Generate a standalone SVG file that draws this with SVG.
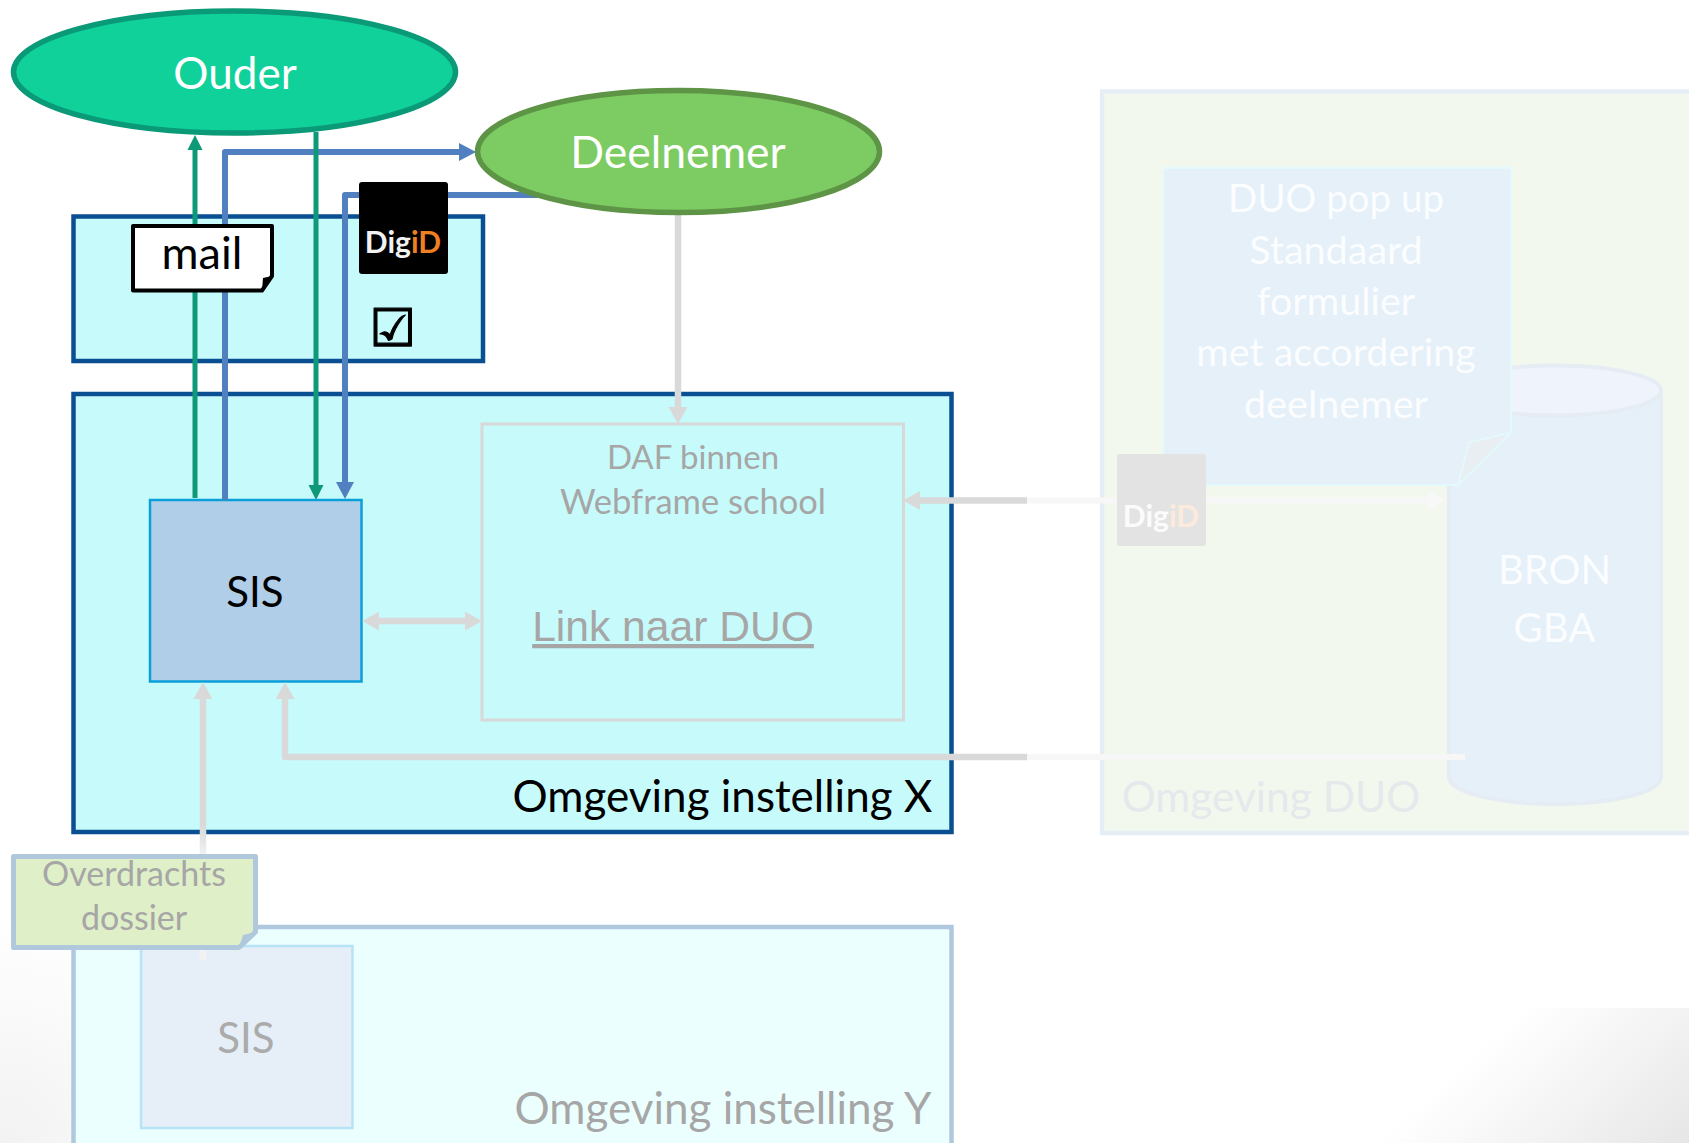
<svg xmlns="http://www.w3.org/2000/svg" width="1689" height="1143" viewBox="0 0 1689 1143">
<style>
text{font-family:Lato,"Open Sans","Liberation Sans",sans-serif;text-anchor:middle}
.gray{fill:#a6a6a6}
.pale{fill:#fbfdff}
.cont{fill:#c7fbfb;stroke:#0a4f91;stroke-width:4.5}
.fl{fill:none;stroke-linejoin:round}
.g{stroke:#0e9a78;stroke-width:5}
.b{stroke:#5180c0;stroke-width:6}
.d{stroke:#d9d9d9;stroke-width:6.5}
.l{stroke:#f7f7f7;stroke-width:6}
</style>
<defs>
<marker id="hg" markerUnits="userSpaceOnUse" markerWidth="16" markerHeight="16" refX="0" refY="8" orient="auto"><path d="M0,0.5L15,8L0,15.5Z" fill="#0e9a78"/></marker>
<marker id="hb" markerUnits="userSpaceOnUse" markerWidth="18" markerHeight="18" refX="0" refY="9" orient="auto"><path d="M0,0L17,9L0,18Z" fill="#5180c0"/></marker>
<marker id="hd" markerUnits="userSpaceOnUse" markerWidth="18" markerHeight="20" refX="0" refY="10" orient="auto-start-reverse"><path d="M0,0.5L17,10L0,19.5Z" fill="#d9d9d9"/></marker>
<marker id="hf" markerUnits="userSpaceOnUse" markerWidth="18" markerHeight="20" refX="0" refY="10" orient="auto"><path d="M0,0.5L17,10L0,19.5Z" fill="#d9d9d9"/></marker>
<marker id="hl" markerUnits="userSpaceOnUse" markerWidth="18" markerHeight="20" refX="0" refY="10" orient="auto"><path d="M0,0.5L17,10L0,19.5Z" fill="#f8f8f8"/></marker>
<linearGradient id="br" gradientUnits="userSpaceOnUse" x1="1450" y1="1075" x2="1592" y2="1233"><stop offset="0" stop-color="#fff"/><stop offset=".5" stop-color="#f3f3f3"/><stop offset="1" stop-color="#e6e6e6"/></linearGradient>
<radialGradient id="bl" gradientUnits="userSpaceOnUse" cx="0" cy="1143" r="230"><stop offset="0" stop-color="#f2f2f2"/><stop offset="1" stop-color="#fff"/></radialGradient>
<linearGradient id="fade" gradientUnits="userSpaceOnUse" x1="0" y1="825" x2="0" y2="855"><stop offset="0" stop-color="#d9d9d9"/><stop offset="1" stop-color="#f2f2f2"/></linearGradient>
</defs>
<rect width="1689" height="1143" fill="#fff"/>
<rect id="bg-left" x="0" y="900" width="240" height="243" fill="url(#bl)"/>
<polygon id="bg-right" points="1520,1008 1689,1008 1689,1143 1370,1143" fill="url(#br)"/>

<g id="omgeving-duo">
<rect x="1102" y="91.5" width="600" height="741.5" fill="#f2f8ee" stroke="#e6eef5" stroke-width="4.5"/>
<text x="1271" y="811.5" font-size="42.5" fill="#e6e9ec">Omgeving DUO</text>
</g>
<g id="bron-gba">
<path d="M1449,390.5V777C1449,792 1496,804 1555,804S1661,792 1661,777V390.5Z" fill="#e5f0f9" stroke="#e6ecf3" stroke-width="4"/>
<ellipse cx="1555" cy="390.5" rx="106" ry="25" fill="#eff4fc" stroke="#e6ecf3" stroke-width="4"/>
<text x="1554.5" y="584" font-size="40" class="pale">BRON</text>
<text x="1554.5" y="641.5" font-size="40" class="pale">GBA</text>
</g>
<g id="duo-popup">
<path d="M1163.5,168H1511V432.5L1458,485H1163.5Z" fill="#e5f0f9" stroke="#e3f9fb" stroke-width="2"/>
<path d="M1511,432.5L1469,442.5L1458,485Z" fill="#e8eef2" stroke="#e3f9fb" stroke-width="2"/>
<text x="1336" y="212" font-size="38.5" class="pale">DUO pop up</text>
<text x="1336" y="263.5" font-size="39.5" class="pale">Standaard</text>
<text x="1336" y="314.5" font-size="39.5" class="pale">formulier</text>
<text x="1336" y="366" font-size="39.5" class="pale">met accordering</text>
<text x="1336" y="417.5" font-size="39.5" class="pale">deelnemer</text>
</g>

<g id="omgeving-y">
<rect x="73.5" y="927" width="878" height="260" fill="#ecffff" stroke="#b0c8de" stroke-width="4.5"/>
<text x="723" y="1123.5" font-size="44" class="gray">Omgeving instelling Y</text>
</g>
<g id="sis-y">
<rect x="141" y="946" width="211.5" height="182" fill="#e6eff7" stroke="#b6e3f5" stroke-width="2.5"/>
<text x="246" y="1052.5" font-size="42" fill="#ababab">SIS</text>
</g>
<g id="omgeving-x">
<rect class="cont" x="73.5" y="394" width="878" height="438"/>
<text x="722.5" y="811.5" font-size="44" fill="#000">Omgeving instelling X</text>
</g>
<g id="login-box"><rect class="cont" x="73.5" y="216.5" width="409.5" height="144.5"/></g>
<g id="daf">
<rect x="482" y="424" width="421.5" height="296" fill="none" stroke="#d8d8d8" stroke-width="3"/>
<text x="693" y="469" font-size="33" class="gray">DAF binnen</text>
<text x="693" y="514" font-size="34.5" class="gray">Webframe school</text>
<text x="673" y="641" font-size="42.6" class="gray" text-decoration="underline" style="font-family:'Liberation Sans',Arial,sans-serif">Link naar DUO</text>
</g>
<g id="sis-x">
<rect x="150" y="500" width="211.5" height="181.5" fill="#b1cee9" stroke="#0a9fd8" stroke-width="2.5"/>
<text x="255" y="607" font-size="42" fill="#000">SIS</text>
</g>

<g id="connectors" class="fl">
<path class="g" d="M195,498V150" marker-end="url(#hg)"/>
<path class="b" d="M225,500V152H459" marker-end="url(#hb)"/>
<path class="g" d="M316,132V485" marker-end="url(#hg)"/>
<path class="b" d="M540,195H345V482" marker-end="url(#hb)"/>
<path class="d" d="M678,213V407" marker-end="url(#hd)"/>
<path class="d" d="M1027,500.5H920" marker-end="url(#hd)"/>
<path class="l" d="M1027,500.5H1429" marker-end="url(#hl)"/>
<path class="d" d="M379,621H465" marker-start="url(#hd)" marker-end="url(#hd)"/>
<path class="d" d="M1027,757H285V699" marker-end="url(#hd)"/>
<path class="l" d="M1027,757H1465"/>
<path stroke="url(#fade)" stroke-width="6.5" d="M203,960V699" marker-end="url(#hf)"/>
</g>

<g id="overdrachts-dossier">
<path d="M13.5,856.5H255.5V932L239,947.5H13.5Z" fill="#dfefc8" stroke="#b0c8dc" stroke-width="5" stroke-linejoin="round"/>
<path d="M255.5,932L243,935L239,947.5Z" fill="#b0c8dc"/>
<text x="134" y="885.5" font-size="34" class="gray">Overdrachts</text>
<text x="134" y="930" font-size="34" class="gray">dossier</text>
</g>
<g id="mail">
<path d="M133,226H272V276L262,290.5H133Z" fill="#fff" stroke="#000" stroke-width="4" stroke-linejoin="round"/>
<path d="M272,276L263,278L262,290.5Z" fill="#000"/>
<text x="202" y="269" font-size="45" fill="#000">mail</text>
</g>
<g id="digid">
<rect x="359" y="182" width="89" height="92" rx="3" fill="#000"/>
<text x="403" y="253" font-size="30" font-weight="700" fill="#f2f2f2">Dig<tspan fill="#ee7f22">iD</tspan></text>
</g>
<g id="check"><text x="392.5" y="346" font-size="52" fill="#000" stroke="#000" stroke-width="1.2" style="font-family:'DejaVu Sans',sans-serif">☑</text></g>
<g id="digid-duo">
<rect x="1117" y="454" width="89" height="92" rx="3" fill="#e3e3e3"/>
<text x="1161" y="526.5" font-size="30" font-weight="700" fill="#fbfbfb">Dig<tspan fill="#fcebdd">iD</tspan></text>
</g>
<g id="ouder">
<ellipse cx="234.5" cy="72" rx="221" ry="61" fill="#11d19b" stroke="#0a9a78" stroke-width="5.5"/>
<text x="235" y="88.5" font-size="44" fill="#fff">Ouder</text>
</g>
<g id="deelnemer">
<ellipse cx="678.5" cy="151.5" rx="201" ry="61" fill="#7ccb63" stroke="#5e9445" stroke-width="5.5"/>
<text x="678" y="167.5" font-size="44.5" fill="#fff">Deelnemer</text>
</g>
</svg>
